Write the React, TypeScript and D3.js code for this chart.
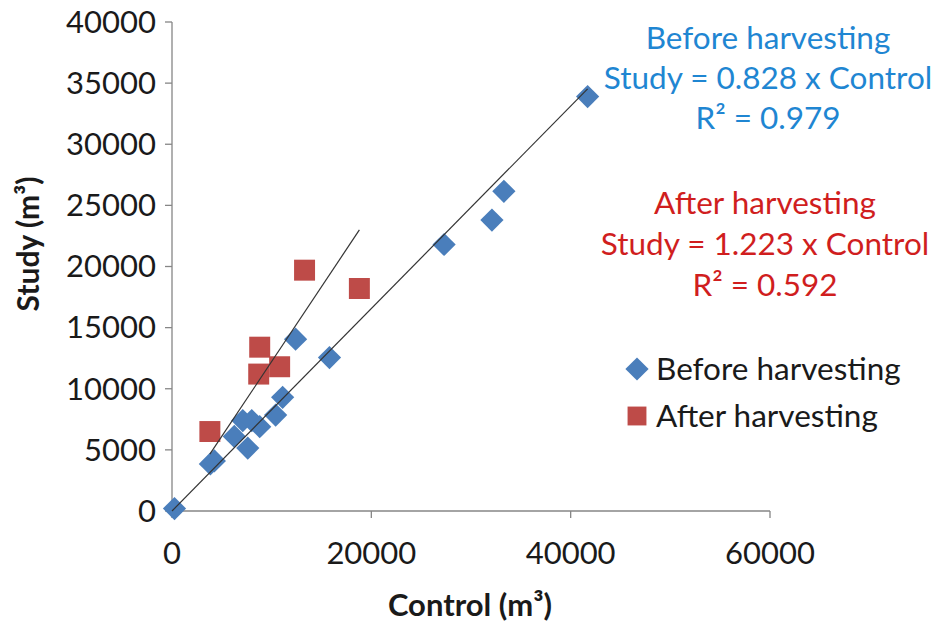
import React from "react";
import * as d3 from "d3";

const beforeControl = [250, 3850, 4250, 6250, 7100, 8000, 8800, 7600, 10400, 11100, 12400, 15800, 27300, 32100, 33300, 41700];
const beforeStudy = [200, 3850, 4100, 6100, 7400, 7400, 6900, 5150, 7850, 9300, 14050, 12550, 21800, 23800, 26150, 33900];
const afterControl = [3800, 8800, 8700, 10800, 13300, 18800];
const afterStudy = [6500, 13400, 11200, 11800, 19700, 18200];

const xTicks = [0, 20000, 40000, 60000];
const yTicks = [0, 5000, 10000, 15000, 20000, 25000, 30000, 35000, 40000];

const beforeSlope = 0.828;
const afterSlope = 1.223;

const beforeLabels = ["Before harvesting", "Study = 0.828 x Control", "R² = 0.979"];
const afterLabels = ["After harvesting", "Study = 1.223 x Control", "R² = 0.592"];
const legendLabels = ["Before harvesting", "After harvesting"];

const W = 933;
const H = 625;
const FONT = "Lato, 'Open Sans', sans-serif";
const BLUE = "#4A7EBB";
const RED = "#BE4B48";
const AXIS = "#868686";

export default function App() {
  const x = d3.scaleLinear().domain([0, 60000]).range([172, 770]);
  const y = d3.scaleLinear().domain([0, 40000]).range([511, 22]);

  const diamond = d3.symbol().type(d3.symbolSquare).size(270)();
  const square = d3.symbol().type(d3.symbolSquare).size(440)();

  const line = d3
    .line<[number, number]>()
    .x((d) => x(d[0]))
    .y((d) => y(d[1]));

  const bMax = d3.max(beforeControl) as number;
  const aMin = d3.min(afterControl) as number;
  const aMax = d3.max(afterControl) as number;

  const beforeLine: [number, number][] = [
    [0, 0],
    [bMax, bMax * beforeSlope],
  ];
  const afterLine: [number, number][] = [
    [aMin, aMin * afterSlope],
    [aMax, aMax * afterSlope],
  ];

  return (
    <>
      <style>{`body{margin:0}`}</style>
      <svg width={W} height={H} style={{ display: "block", background: "#fff" }} fontFamily={FONT}>
        {/* axes */}
        <line x1={x(0)} x2={x(0)} y1={y(40000)} y2={y(0)} stroke={AXIS} strokeWidth={1.3} />
        <line x1={x(0)} x2={x(60000)} y1={y(0)} y2={y(0)} stroke={AXIS} strokeWidth={1.3} />
        {yTicks.map((t) => (
          <g key={"y" + t}>
            <line x1={x(0) - 7} x2={x(0)} y1={y(t)} y2={y(t)} stroke={AXIS} strokeWidth={1.3} />
            <text x={156} y={y(t)} dy="0.35em" textAnchor="end" fontSize={31} fill="#1a1a1a">
              {t}
            </text>
          </g>
        ))}
        {xTicks.map((t) => (
          <g key={"x" + t}>
            <line x1={x(t)} x2={x(t)} y1={y(0)} y2={y(0) + 7} stroke={AXIS} strokeWidth={1.3} />
            <text x={x(t)} y={553} dy="0.35em" textAnchor="middle" fontSize={31} fill="#1a1a1a">
              {t}
            </text>
          </g>
        ))}
        <text
          transform={`translate(28,244) rotate(-90)`}
          textAnchor="middle"
          dy="0.35em"
          fontSize={30}
          fontWeight="bold"
          fill="#1a1a1a"
        >
          Study (m³)
        </text>
        <text x={470} y={605} dy="0.35em" textAnchor="middle" fontSize={31} fontWeight="bold" fill="#1a1a1a">
          Control (m³)
        </text>

        {/* markers */}
        {beforeControl.map((c, i) => (
          <path
            key={"b" + i}
            d={diamond}
            transform={`translate(${x(c)},${y(beforeStudy[i])}) rotate(45)`}
            fill={BLUE}
          />
        ))}
        {afterControl.map((c, i) => (
          <path key={"a" + i} d={square} transform={`translate(${x(c)},${y(afterStudy[i])})`} fill={RED} />
        ))}

        {/* trendlines */}
        <path d={line(beforeLine) as string} stroke="#333" strokeWidth={1.2} fill="none" />
        <path d={line(afterLine) as string} stroke="#333" strokeWidth={1.2} fill="none" />

        {/* annotations */}
        {beforeLabels.map((s, i) => (
          <text key={"bl" + i} x={768} y={38 + i * 40} dy="0.35em" textAnchor="middle" fontSize={31.5} fill="#1F86D2">
            {s}
          </text>
        ))}
        {afterLabels.map((s, i) => (
          <text key={"al" + i} x={765} y={203 + i * 41} dy="0.35em" textAnchor="middle" fontSize={31.5} fill="#D01E1E">
            {s}
          </text>
        ))}

        {/* legend */}
        <path d={diamond} transform={`translate(637,369) rotate(45)`} fill={BLUE} />
        <text x={656} y={369} dy="0.35em" fontSize={31.5} fill="#1a1a1a">
          {legendLabels[0]}
        </text>
        <path d={square} transform={`translate(637,416) scale(0.9)`} fill={RED} />
        <text x={656} y={416} dy="0.35em" fontSize={31.5} fill="#1a1a1a">
          {legendLabels[1]}
        </text>
      </svg>
    </>
  );
}
